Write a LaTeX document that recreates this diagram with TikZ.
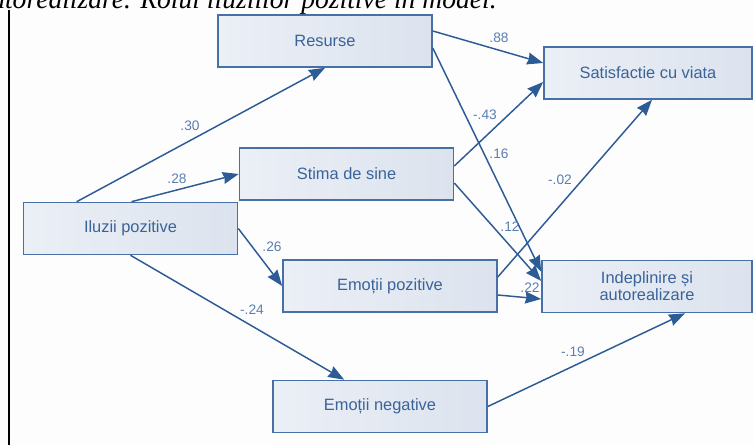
\documentclass[tikz,border=0pt]{standalone}
\usepackage{fontspec}
\setmainfont{Liberation Sans}
\newfontfamily\capfont{Liberation Serif}
\usetikzlibrary{arrows.meta,calc}

\definecolor{bgcol}{HTML}{FDFDFD}
\definecolor{boxline}{HTML}{4670A6}
\definecolor{boxtext}{HTML}{3A6399}
\definecolor{boxleft}{HTML}{EBEFF6}
\definecolor{boxright}{HTML}{DCE3EE}
\definecolor{arrowcol}{HTML}{2D5B96}
\definecolor{coefcol}{HTML}{5A7FB2}

\tikzset{
  vbox/.style={draw=boxline, line width=1.2pt, left color=boxleft, right color=boxright,
    minimum width=160.5pt, minimum height=39pt, inner sep=0pt, text=boxtext,
    font=\fontsize{12.3}{12.8}\selectfont, align=center},
  path/.style={draw=arrowcol, line width=1.1pt,
    -{Stealth[length=12pt, width=9pt, inset=1pt]}},
  coef/.style={text=coefcol, font=\fontsize{10.3}{12}\selectfont, inner sep=0pt},
}

\begin{document}
\begin{tikzpicture}[x=0.75pt, y=-0.75pt]
\useasboundingbox (0,0) rectangle (754,445);
\clip (0,0) rectangle (754,445);
\fill[bgcol] (0,0) rectangle (754,445);

% caption line running above the figure
\node[anchor=base east, inner sep=0pt, font=\capfont\itshape\fontsize{20.7}{24}\selectfont]
  (caption) at (497,9) {autorealizare. Rolul iluziilor pozitive în model.};
\coordinate (rtop) at (9,10);
\coordinate (rbot) at (9,445);
\draw[black, line width=0.8pt] (rtop) -- (rbot);

% variables
\node[vbox] (res) at (325,41) {Resurse};
\node[vbox, minimum width=156pt] (sat) at (648,73) {Satisfactie cu viata};
\node[vbox] (sti) at (346.5,174) {Stima de sine};
\node[vbox] (ilu) at (130.5,228.5) {Iluzii pozitive};
\node[vbox] (epz) at (390,286) {Emoții pozitive};
\node[vbox, minimum width=157.5pt] (ind) at (647,286.5) {Indeplinire și\\autorealizare};
\node[vbox] (eng) at (380,406.5) {Emoții negative};

% paths
\draw[path] ($(ilu.north west)+(54,0)$) -- (res.south);
\draw[path] ($(ilu.north)+(1,0)$) -- (sti.west);
\draw[path] (ilu.east) -- (epz.west);
\draw[path] (ilu.south) -- ($(eng.north west)+(72,0)$);
\draw[path] ($(res.east)+(0,-10)$) -- ($(sat.west)+(0,-10)$);
\draw[path] ($(res.east)+(0,7)$) -- ($(ind.north west)+(0,12)$);
\draw[path] ($(sti.east)+(0,-8)$) -- ($(sat.west)+(0,9)$);
\draw[path] ($(sti.east)+(0,9)$) -- ($(ind.west)+(0,-5.5)$);
\draw[path] ($(epz.east)+(0,-9)$) -- ($(sat.south)+(4,0)$);
\draw[path] ($(epz.east)+(0,9)$) -- ($(ind.west)+(0,12.5)$);
\draw[path] (eng.east) -- ($(ind.south)+(38,0)$);

% path coefficients
\node[coef] (c30) at (190,126) {.30};
\node[coef] (c28) at (177,179) {.28};
\node[coef] (c26) at (272,247) {.26};
\node[coef] (c24) at (252,310) {-.24};
\node[coef] (c88) at (499,38) {.88};
\node[coef] (c16) at (499,154) {.16};
\node[coef] (c43) at (485,115) {-.43};
\node[coef] (c12) at (510,227) {.12};
\node[coef] (c02) at (560,180) {-.02};
\node[coef] (c22) at (530,288) {.22};
\node[coef] (c19) at (573,352) {-.19};
\end{tikzpicture}
\end{document}
